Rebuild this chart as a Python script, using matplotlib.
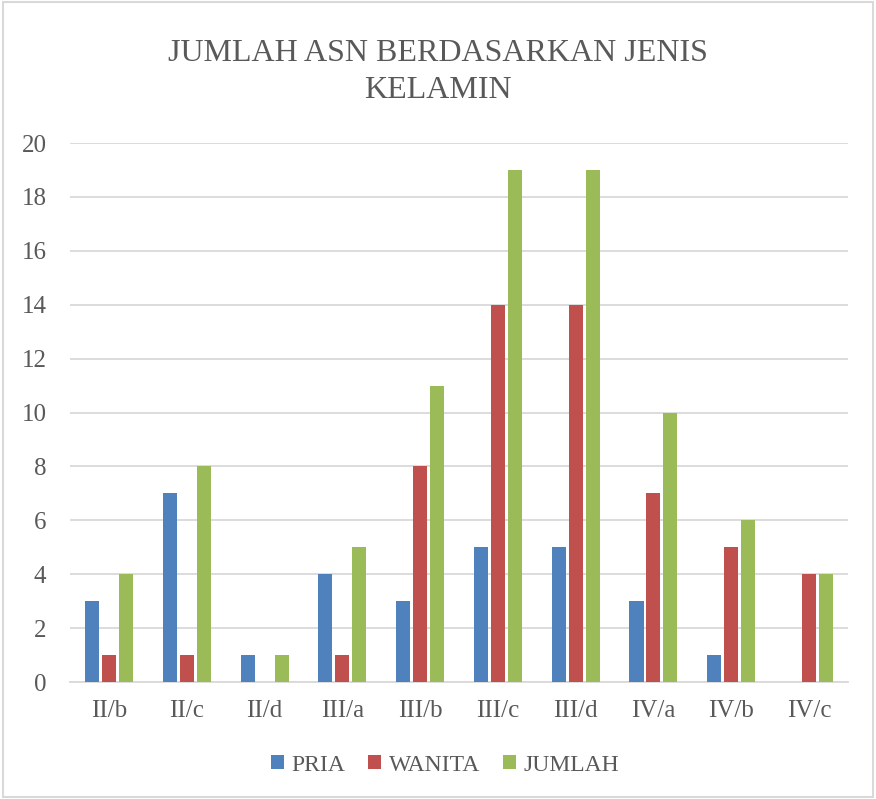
import matplotlib.pyplot as plt
import numpy as np

categories = ['II/b', 'II/c', 'II/d', 'III/a', 'III/b', 'III/c', 'III/d', 'IV/a', 'IV/b', 'IV/c']
pria = [3, 7, 1, 4, 3, 5, 5, 3, 1, 0]
wanita = [1, 1, 0, 1, 8, 14, 14, 7, 5, 4]
jumlah = [4, 8, 1, 5, 11, 19, 19, 10, 6, 4]

text_color = '#595959'
plt.rcParams['font.family'] = ['Liberation Serif', 'DejaVu Serif']

fig = plt.figure(figsize=(8.76, 7.99), dpi=100)
ax = fig.add_axes([0.080, 0.1464, 0.888, 0.6746])

x = np.arange(len(categories))
w = 0.18
step = 0.2185
ax.bar(x - step, pria, w, color='#4F81BD', label='PRIA', zorder=3)
ax.bar(x, wanita, w, color='#C0504D', label='WANITA', zorder=3)
ax.bar(x + step, jumlah, w, color='#9BBB59', label='JUMLAH', zorder=3)

ax.set_xlim(-0.5, len(categories) - 0.5)
ax.set_ylim(0, 20)
ax.set_yticks(range(0, 21, 2))
ax.set_xticks(x)
ax.set_xticklabels(categories)
ax.yaxis.grid(True, color='#D9D9D9', linewidth=1.3, zorder=0)
for s in ['top', 'right', 'left']:
    ax.spines[s].set_visible(False)
ax.spines['bottom'].set_color('#D9D9D9')
ax.spines['bottom'].set_linewidth(1.3)
ax.tick_params(axis='both', length=0, labelsize=18, colors=text_color)
ax.tick_params(axis='x', pad=13)
ax.tick_params(axis='y', pad=17)

fig.text(0.5, 0.910, 'JUMLAH ASN BERDASARKAN JENIS\nKELAMIN', ha='center', va='center',
         fontsize=23, color=text_color, linespacing=1.4)

ax.legend(loc='center', bbox_to_anchor=(0.508, 0.0425), bbox_transform=fig.transFigure,
          ncol=3, frameon=False, fontsize=17, handlelength=0.55, handleheight=0.55,
          columnspacing=1.0, handletextpad=0.3, labelcolor=text_color)

# thin frame round the chart
fig.patches.append(plt.Rectangle((0.003, 0.003), 0.994, 0.994, transform=fig.transFigure,
                                 fill=False, edgecolor='#D9D9D9', linewidth=1.5))

plt.savefig('out.png', dpi=100)
